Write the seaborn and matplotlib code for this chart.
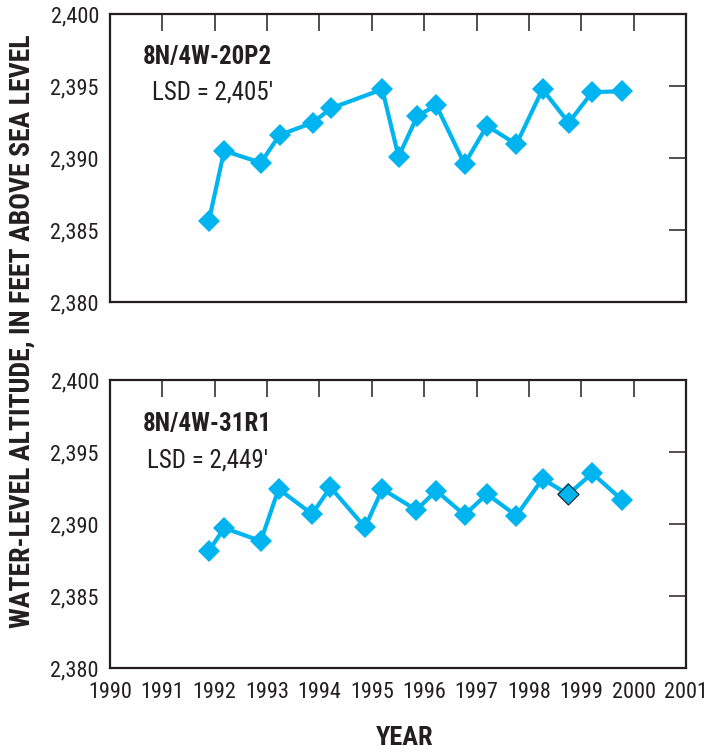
import matplotlib
matplotlib.use("Agg")
import matplotlib.pyplot as plt
import seaborn as sns
import pandas as pd

# ---- data ----
years_20P2 = [1991.89, 1992.18, 1992.88, 1993.24, 1993.87, 1994.22, 1995.20, 1995.51, 1995.87,
              1996.23, 1996.77, 1997.20, 1997.76, 1998.26, 1998.76, 1999.21, 1999.78]
levels_20P2 = [2385.65, 2390.50, 2389.67, 2391.60, 2392.45, 2393.45, 2394.77, 2390.09, 2392.92,
               2393.66, 2389.58, 2392.24, 2390.95, 2394.77, 2392.45, 2394.58, 2394.63]

years_31R1 = [1991.89, 1992.18, 1992.88, 1993.22, 1993.86, 1994.21, 1994.87, 1995.20, 1995.85,
              1996.23, 1996.77, 1997.20, 1997.76, 1998.26, 1998.75, 1999.21, 1999.78]
levels_31R1 = [2388.13, 2389.72, 2388.82, 2392.43, 2390.69, 2392.55, 2389.77, 2392.43, 2390.97,
               2392.31, 2390.63, 2392.08, 2390.58, 2393.13, 2392.06, 2393.52, 2391.67]

wells = ["8N/4W-20P2", "8N/4W-31R1"]
lsd_labels = ["LSD = 2,405'", "LSD = 2,449'"]
x_ticks = list(range(1990, 2002))
y_ticks = [2380, 2385, 2390, 2395, 2400]
y_tick_labels = ["2,380", "2,385", "2,390", "2,395", "2,400"]

# ---- style ----
sns.set_style("white")
FONT = ["Roboto Condensed", "Archivo Narrow", "PT Sans Narrow", "Barlow Condensed", "DejaVu Sans"]
plt.rcParams["font.family"] = FONT
INK = "#231f20"
CYAN = "#00b5ef"

W, H = 709, 753
fig = plt.figure(figsize=(W / 100, H / 100), dpi=100)

def ax_rect(left, top, right, bottom):
    return [left / W, 1 - bottom / H, (right - left) / W, (bottom - top) / H]

ax_top = fig.add_axes(ax_rect(110, 14, 686, 302))
ax_bot = fig.add_axes(ax_rect(110, 380, 686, 668))

datasets = [(years_20P2, levels_20P2), (years_31R1, levels_31R1)]
title_pos = [((0.056, 0.851), (0.073, 0.729)), ((0.056, 0.847), (0.064, 0.722))]

for i, ax in enumerate([ax_top, ax_bot]):
    yrs, lv = datasets[i]
    df = pd.DataFrame({"year": yrs, "level": lv})
    sns.lineplot(data=df, x="year", y="level", ax=ax, color=CYAN, linewidth=3,
                 marker="D", markersize=11, markeredgewidth=0, sort=False)
    if i == 1:
        sub = df.iloc[[14]]
        sns.scatterplot(data=sub, x="year", y="level", ax=ax, marker="D", s=115,
                        color=CYAN, edgecolor=INK, linewidth=0.8, zorder=5)
    ax.set_xlim(1990, 2001)
    ax.set_ylim(2380, 2400)
    ax.set_xticks(x_ticks)
    ax.set_yticks(y_ticks)
    ax.set_yticklabels(y_tick_labels)
    ax.set_xlabel("")
    ax.set_ylabel("")
    for s in ax.spines.values():
        s.set_visible(True)
        s.set_linewidth(1.6)
        s.set_color(INK)
    ax.tick_params(axis="both", direction="in", length=12, width=1.1, color=INK,
                   top=True, right=True, labelcolor=INK)
    ax.tick_params(axis="y", labelsize=16, pad=8)
    if i == 0:
        ax.tick_params(axis="x", labelbottom=False)
    else:
        ax.tick_params(axis="x", labelsize=16, pad=10)
    (tx, ty), (lx, ly) = title_pos[i]
    ax.text(tx, ty, wells[i], transform=ax.transAxes, fontsize=18, fontweight="bold",
            color=INK, ha="left", va="center")
    ax.text(lx, ly, lsd_labels[i], transform=ax.transAxes, fontsize=18,
            color=INK, ha="left", va="center")

fig.text(22 / W, 1 - 331 / H, "WATER-LEVEL ALTITUDE, IN FEET ABOVE SEA LEVEL",
         rotation=90, ha="center", va="center", fontsize=20, fontweight="bold", color=INK)
fig.text(405 / W, 1 - 738 / H, "YEAR", ha="center", va="center", fontsize=19,
         fontweight="bold", color=INK)

fig.savefig("out.png", dpi=100)
